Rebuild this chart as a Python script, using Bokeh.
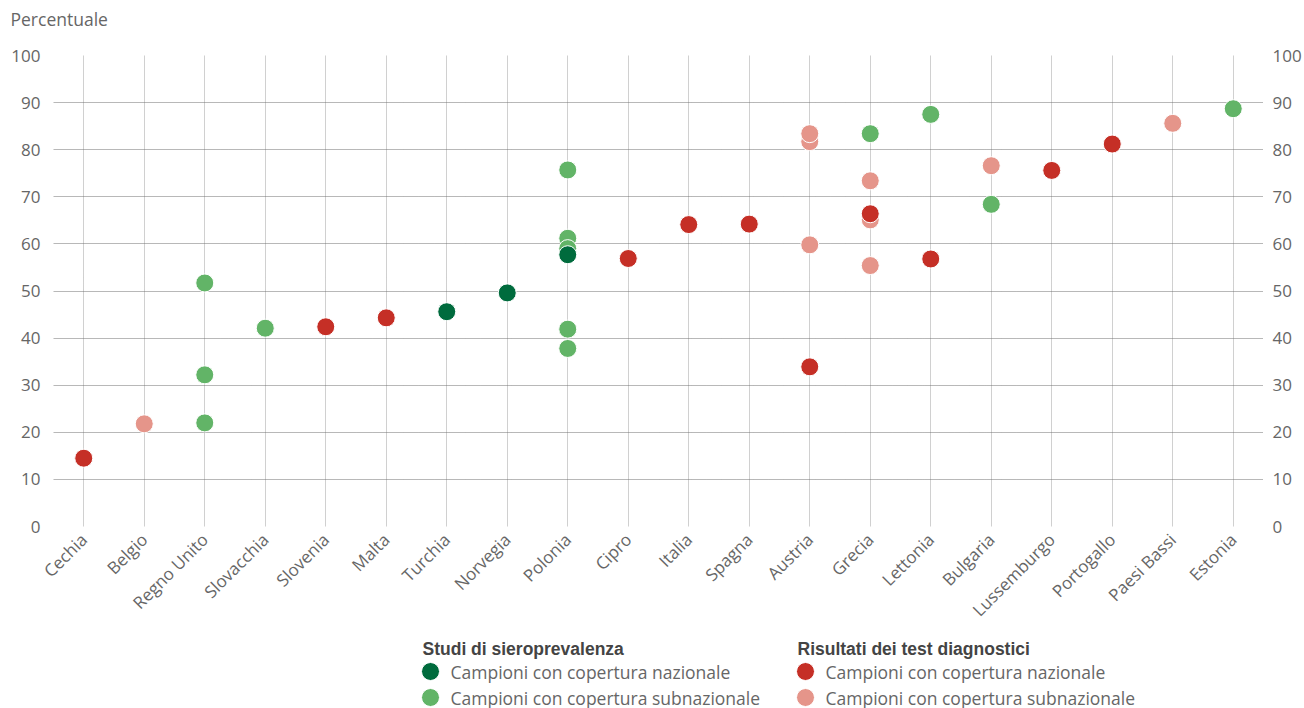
import math
from bokeh.plotting import figure
from bokeh.layouts import column
from bokeh.models import LinearAxis, FixedTicker, Range1d, FactorRange
from bokeh.core.properties import value
from bokeh.embed import file_html
from bokeh.resources import INLINE

countries = ["Cechia", "Belgio", "Regno Unito", "Slovacchia", "Slovenia", "Malta",
             "Turchia", "Norvegia", "Polonia", "Cipro", "Italia", "Spagna",
             "Austria", "Grecia", "Lettonia", "Bulgaria", "Lussemburgo",
             "Portogallo", "Paesi Bassi", "Estonia"]

# Studi di sieroprevalenza - campioni con copertura subnazionale
sero_sub_country = ["Regno Unito", "Regno Unito", "Regno Unito", "Slovacchia",
                    "Polonia", "Polonia", "Polonia", "Polonia", "Polonia",
                    "Grecia", "Lettonia", "Bulgaria", "Estonia"]
sero_sub_value = [51.7, 32.2, 22.0, 42.1, 75.7, 61.2, 59.0, 41.9, 37.8,
                  83.4, 87.5, 68.4, 88.7]

# Risultati dei test diagnostici - campioni con copertura subnazionale
test_sub_country = ["Belgio", "Austria", "Austria", "Austria", "Grecia", "Grecia",
                    "Grecia", "Bulgaria", "Paesi Bassi"]
test_sub_value = [21.8, 81.7, 83.4, 59.8, 73.4, 65.1, 55.4, 76.6, 85.6]

# Studi di sieroprevalenza - campioni con copertura nazionale
sero_naz_country = ["Turchia", "Norvegia", "Polonia"]
sero_naz_value = [45.6, 49.6, 57.7]

# Risultati dei test diagnostici - campioni con copertura nazionale
test_naz_country = ["Cechia", "Slovenia", "Malta", "Cipro", "Italia", "Spagna",
                    "Austria", "Grecia", "Lettonia", "Lussemburgo", "Portogallo"]
test_naz_value = [14.5, 42.4, 44.3, 56.9, 64.1, 64.2, 33.9, 66.4, 56.8, 75.6, 81.2]

y_ticks = list(range(0, 101, 10))

y_title = "Percentuale"
legend_groups = ["Studi di sieroprevalenza", "Risultati dei test diagnostici"]
legend_labels = ["Campioni con copertura nazionale", "Campioni con copertura subnazionale"]

FONT = "Open Sans"
TXT = "#666666"

C_SERO_NAZ = "#006b3d"
C_SERO_SUB = "#62b467"
C_TEST_NAZ = "#c52f26"
C_TEST_SUB = "#e5958a"
legend_colors = [[C_SERO_NAZ, C_SERO_SUB], [C_TEST_NAZ, C_TEST_SUB]]

W = 1304
FRAME_L, FRAME_R = 53, 1263
TOP_H = 44
MAIN_H = 588
LG_H = 76

# ---- top strip carrying the unit title ----
top = figure(width=W, height=TOP_H, x_range=Range1d(0, 1), y_range=Range1d(0, 1),
             output_backend="svg", toolbar_location=None,
             x_axis_location=None, y_axis_location=None,
             min_border_left=FRAME_L, min_border_right=W - FRAME_R,
             min_border_top=0, min_border_bottom=0)
top.outline_line_color = None
top.grid.visible = False
top.title.text = y_title
top.title.align = "left"
top.title.vertical_align = "top"
top.title.offset = -43
top.title.standoff = 13
top.title.text_font = FONT
top.title.text_font_size = "17.5px"
top.title.text_font_style = "normal"
top.title.text_color = TXT

# ---- main chart ----
p = figure(width=W, height=MAIN_H,
           x_range=FactorRange(*countries), y_range=Range1d(0, 100),
           output_backend="svg", toolbar_location=None,
           min_border_left=FRAME_L, min_border_top=55 - TOP_H, min_border_bottom=104,
           min_border_right=W - FRAME_R)
p.outline_line_color = None

def style_axis(ax, standoff):
    ax.axis_line_color = None
    ax.major_tick_line_color = None
    ax.minor_tick_line_color = None
    ax.major_tick_out = 0
    ax.major_tick_in = 0
    ax.minor_tick_out = 0
    ax.minor_tick_in = 0
    ax.major_label_text_font = FONT
    ax.major_label_text_font_size = "17px"
    ax.major_label_text_color = TXT
    ax.major_label_standoff = standoff

style_axis(p.xaxis[0], 10)
p.xaxis.major_label_orientation = math.pi / 4

p.yaxis.ticker = FixedTicker(ticks=y_ticks)
style_axis(p.yaxis[0], 13)

ra = LinearAxis(ticker=FixedTicker(ticks=y_ticks))
style_axis(ra, 9)
p.add_layout(ra, "right")

# grid
p.xgrid.grid_line_color = "#a0a0a0"
p.xgrid.grid_line_dash = "1 1"
p.xgrid.grid_line_width = 1
p.ygrid.grid_line_color = "#707070"
p.ygrid.grid_line_dash = "1 1"
p.ygrid.grid_line_width = 1
p.ygrid.ticker = FixedTicker(ticks=y_ticks)

kw = dict(size=18, line_color="white", line_width=1)
p.scatter(sero_sub_country, sero_sub_value, fill_color=C_SERO_SUB, **kw)
p.scatter(test_sub_country, test_sub_value, fill_color=C_TEST_SUB, **kw)
p.scatter(sero_naz_country, sero_naz_value, fill_color=C_SERO_NAZ, **kw)
p.scatter(test_naz_country, test_naz_value, fill_color=C_TEST_NAZ, **kw)

# ---- legend strip (frame aligned with chart frame; x in page pixels) ----
lg = figure(width=W, height=LG_H, x_range=Range1d(FRAME_L, FRAME_R),
            y_range=Range1d(0, LG_H),
            output_backend="svg", toolbar_location=None,
            x_axis_location=None, y_axis_location=None,
            min_border_left=FRAME_L, min_border_right=W - FRAME_R,
            min_border_top=0, min_border_bottom=0)
lg.outline_line_color = None
lg.grid.visible = False

col_left = [422, 797]     # left edge of each legend column (px)
head_y = 60               # heading centre (px from bottom)
row_y = [37, 11]          # rows (px from bottom)

key_x, key_y, key_c, lab_x, lab_y, lab_t = [], [], [], [], [], []
for ci, cx in enumerate(col_left):
    for ri, ry in enumerate(row_y):
        key_x.append(cx + 8)
        key_y.append(ry)
        key_c.append(legend_colors[ci][ri])
        lab_x.append(cx + 28)
        lab_y.append(ry)
        lab_t.append(legend_labels[ri])

lg.scatter(key_x, key_y, fill_color=key_c, size=18, line_color="white", line_width=1)
lg.text(x=lab_x, y=lab_y, text=lab_t, text_font=value(FONT), text_font_size="17.5px",
        text_color=TXT, text_align="left", text_baseline="middle")
lg.text(x=col_left, y=[head_y] * len(col_left), text=legend_groups,
        text_font=value("Liberation Sans"), text_font_size="17.5px",
        text_font_style="bold", text_color="#444444",
        text_align="left", text_baseline="middle")

layout = column(top, p, lg, spacing=0)
open("out.html", "w").write(file_html(layout, INLINE))
